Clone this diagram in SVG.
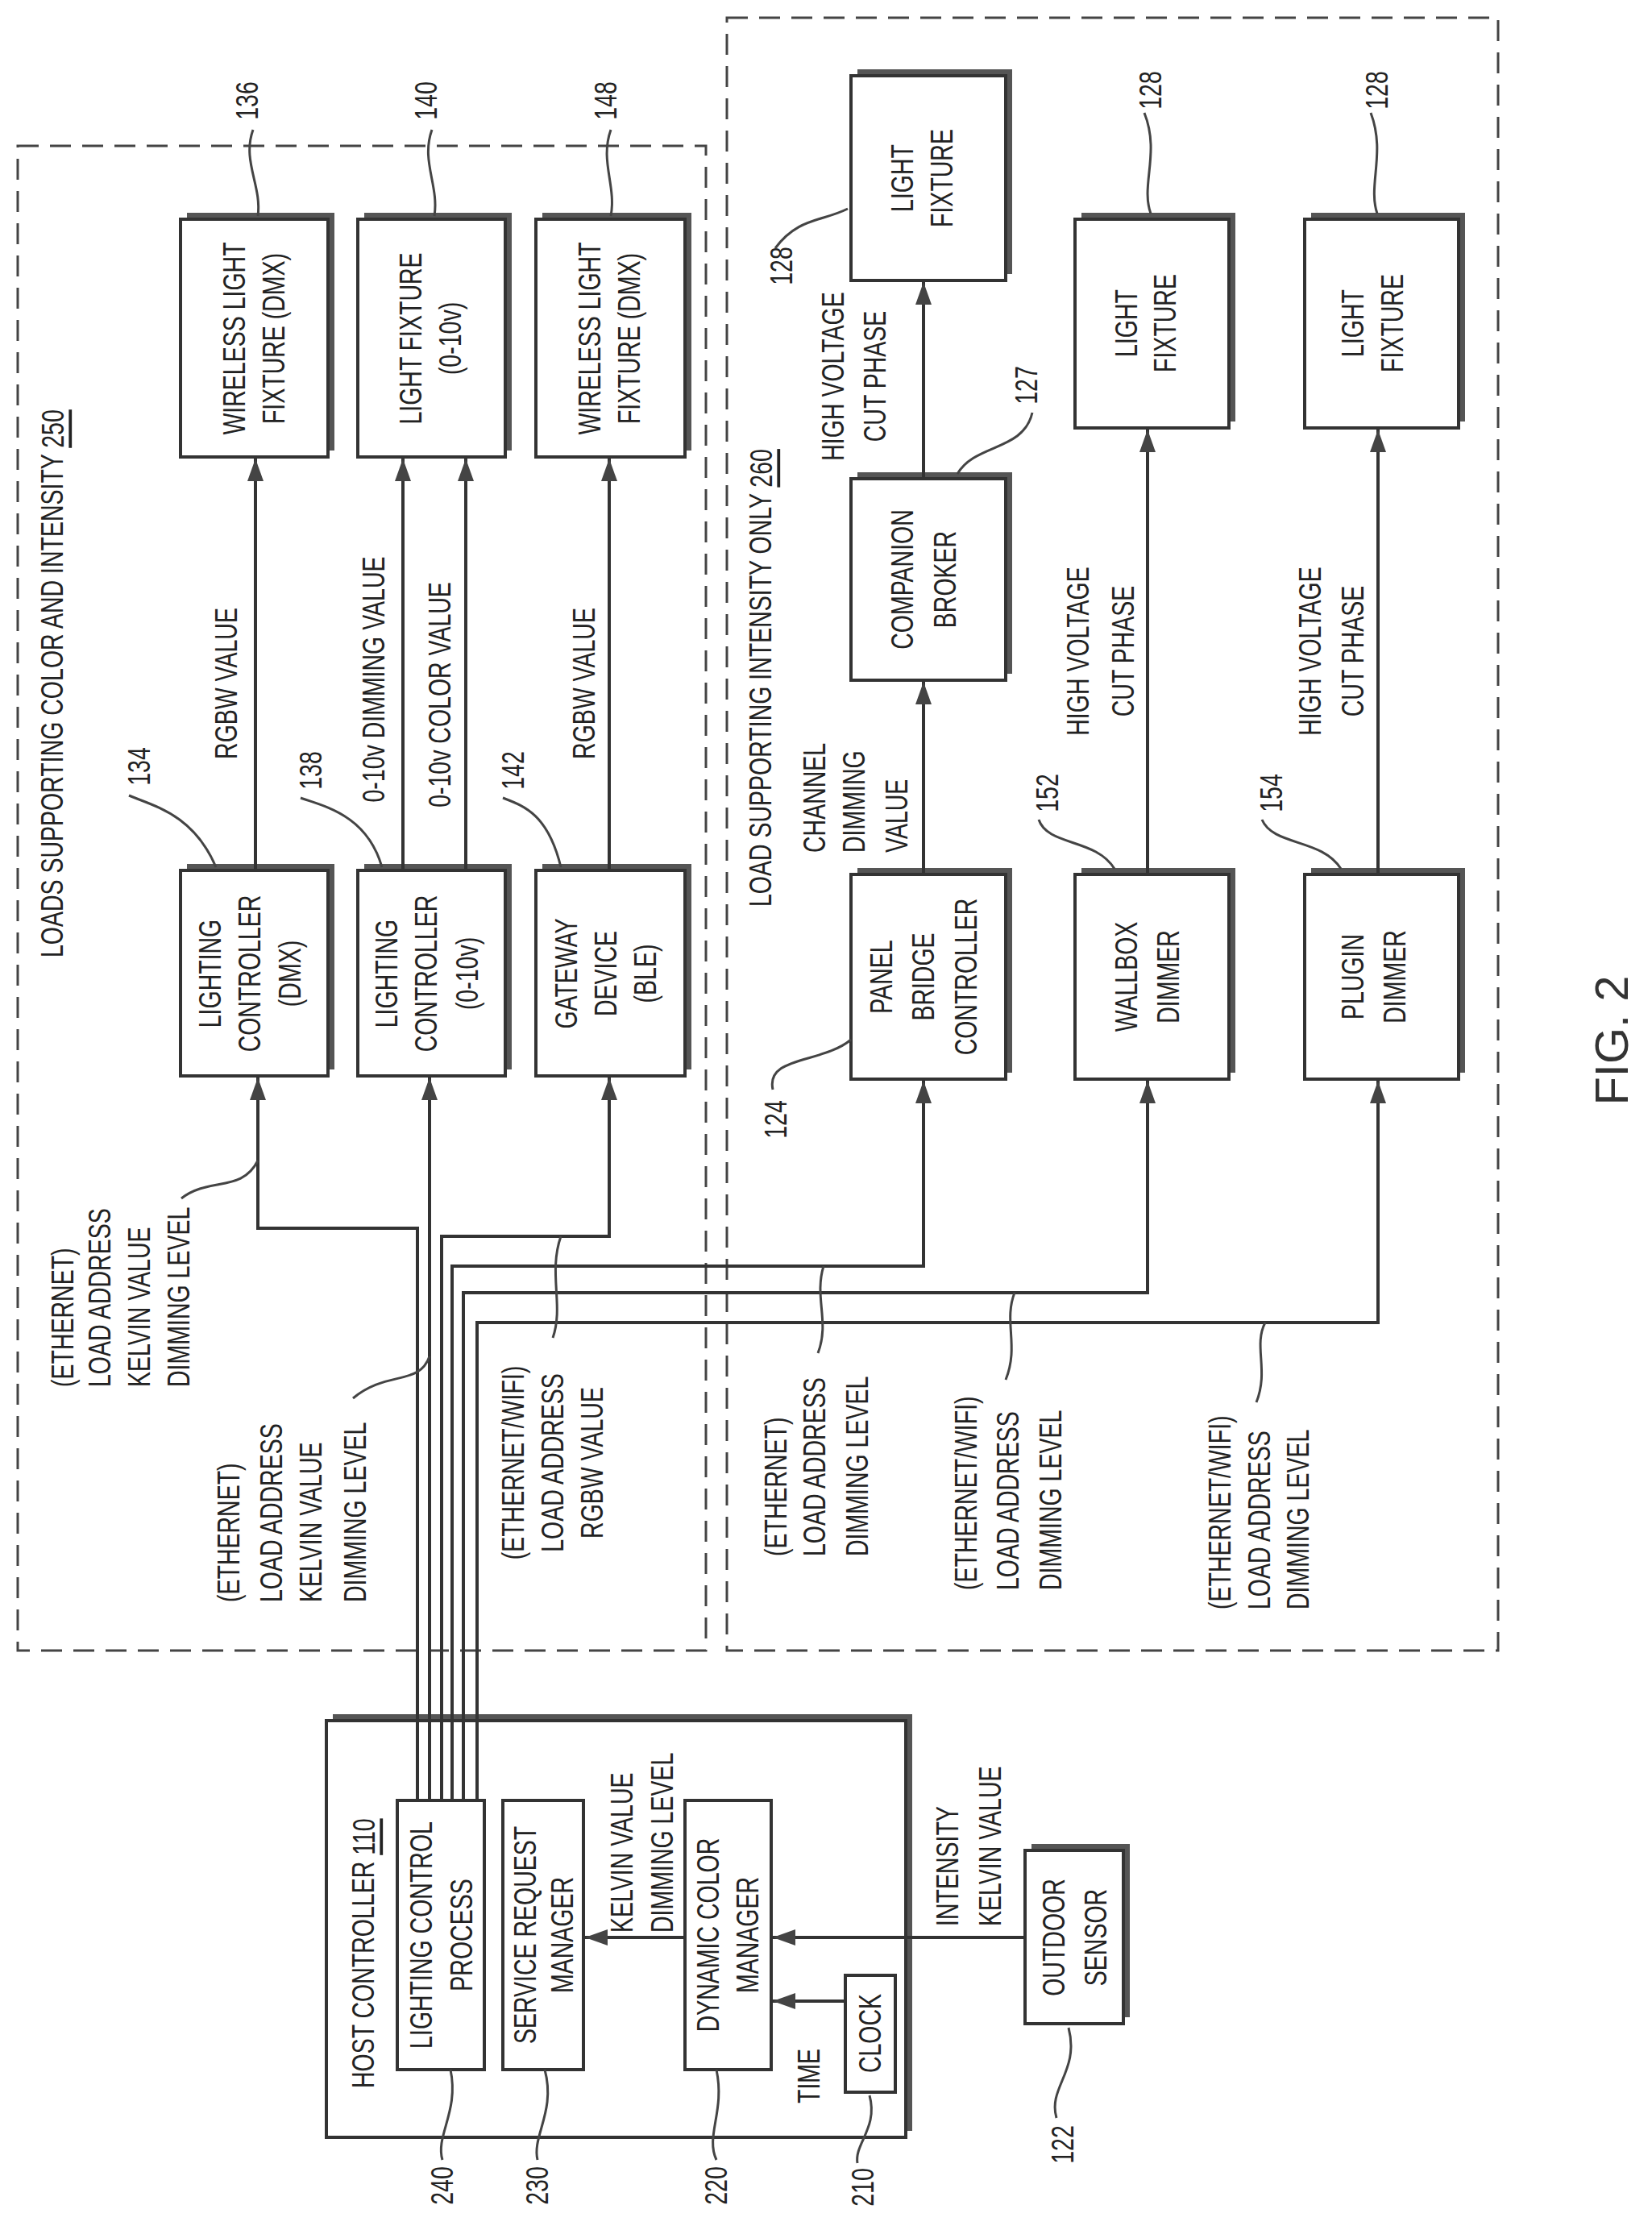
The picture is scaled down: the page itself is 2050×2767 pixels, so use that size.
<svg xmlns="http://www.w3.org/2000/svg" width="2050" height="2767" viewBox="0 0 2050 2767">
<style>
.t{font-family:"Liberation Sans",Arial,sans-serif;font-size:38px;fill:#222}
.f{font-family:"Liberation Sans",Arial,sans-serif;font-size:58px;fill:#333}
.ln{stroke:#333;stroke-width:4;fill:none}
.ld{stroke:#444;stroke-width:3;fill:none}
.dash{stroke:#444;stroke-width:3;fill:none;stroke-dasharray:26 14}
.bx{fill:#fff;stroke:#333;stroke-width:4}
.sh{fill:#555}
</style>
<defs>
<marker id="ar" viewBox="0 0 28 20" refX="28" refY="10" markerWidth="28" markerHeight="20" markerUnits="userSpaceOnUse" orient="auto"><path d="M0,0 L28,10 L0,20 z" fill="#444"/></marker>
</defs>
<rect width="2050" height="2767" fill="#fff"/>
<g id="region250"><rect class="dash" x="22" y="181" width="854" height="1867"/>
<text class="t" transform="translate(65,1188) rotate(-90) scale(0.75,1)" dominant-baseline="central">LOADS SUPPORTING COLOR AND INTENSITY <tspan text-decoration="underline">250</tspan></text></g>
<g id="region260"><rect class="dash" x="902" y="22" width="957" height="2026"/>
<text class="t" transform="translate(944,1125) rotate(-90) scale(0.75,1)" dominant-baseline="central">LOAD SUPPORTING INTENSITY ONLY <tspan text-decoration="underline">260</tspan></text></g>

<g id="host110"><rect class="sh" x="413" y="2127" width="719" height="517"/><rect class="bx" x="405" y="2135" width="719" height="517"/>
<text class="t" transform="translate(451,2591) rotate(-90) scale(0.75,1)" dominant-baseline="central">HOST CONTROLLER <tspan text-decoration="underline">110</tspan></text></g>
<g id="n240"><rect class="bx" x="493" y="2234" width="108" height="334"/>
<text class="t" transform="translate(523,2401) rotate(-90) scale(0.75,1)" text-anchor="middle" dominant-baseline="central">LIGHTING CONTROL</text>
<text class="t" transform="translate(573,2401) rotate(-90) scale(0.75,1)" text-anchor="middle" dominant-baseline="central">PROCESS</text></g>
<g id="n230"><rect class="bx" x="624" y="2234" width="100" height="334"/>
<text class="t" transform="translate(652,2401) rotate(-90) scale(0.75,1)" text-anchor="middle" dominant-baseline="central">SERVICE REQUEST</text>
<text class="t" transform="translate(698,2401) rotate(-90) scale(0.75,1)" text-anchor="middle" dominant-baseline="central">MANAGER</text></g>
<g id="n220"><rect class="bx" x="850" y="2234" width="107" height="334"/>
<text class="t" transform="translate(879,2401) rotate(-90) scale(0.75,1)" text-anchor="middle" dominant-baseline="central">DYNAMIC COLOR</text>
<text class="t" transform="translate(928,2401) rotate(-90) scale(0.75,1)" text-anchor="middle" dominant-baseline="central">MANAGER</text></g>
<g id="n210"><rect class="bx" x="1049" y="2451" width="62" height="145"/>
<text class="t" transform="translate(1080,2523) rotate(-90) scale(0.75,1)" text-anchor="middle" dominant-baseline="central">CLOCK</text></g>
<g id="n122"><rect class="sh" x="1280" y="2288" width="122" height="215"/><rect class="bx" x="1272" y="2296" width="122" height="215"/>
<text class="t" transform="translate(1308,2404) rotate(-90) scale(0.75,1)" text-anchor="middle" dominant-baseline="central">OUTDOOR</text>
<text class="t" transform="translate(1360,2404) rotate(-90) scale(0.75,1)" text-anchor="middle" dominant-baseline="central">SENSOR</text></g>

<g id="n136"><rect class="sh" x="232" y="264" width="183" height="295"/><rect class="bx" x="224" y="272" width="183" height="295"/>
<text class="t" transform="translate(291,420) rotate(-90) scale(0.75,1)" text-anchor="middle" dominant-baseline="central">WIRELESS LIGHT</text>
<text class="t" transform="translate(340,420) rotate(-90) scale(0.75,1)" text-anchor="middle" dominant-baseline="central">FIXTURE (DMX)</text></g>
<g id="n140"><rect class="sh" x="452" y="264" width="183" height="295"/><rect class="bx" x="444" y="272" width="183" height="295"/>
<text class="t" transform="translate(510,420) rotate(-90) scale(0.75,1)" text-anchor="middle" dominant-baseline="central">LIGHT FIXTURE</text>
<text class="t" transform="translate(559,420) rotate(-90) scale(0.75,1)" text-anchor="middle" dominant-baseline="central">(0-10v)</text></g>
<g id="n148"><rect class="sh" x="673" y="264" width="185" height="295"/><rect class="bx" x="665" y="272" width="185" height="295"/>
<text class="t" transform="translate(732,420) rotate(-90) scale(0.75,1)" text-anchor="middle" dominant-baseline="central">WIRELESS LIGHT</text>
<text class="t" transform="translate(781,420) rotate(-90) scale(0.75,1)" text-anchor="middle" dominant-baseline="central">FIXTURE (DMX)</text></g>
<g id="n134"><rect class="sh" x="232" y="1072" width="183" height="255"/><rect class="bx" x="224" y="1080" width="183" height="255"/>
<text class="t" transform="translate(261,1208) rotate(-90) scale(0.75,1)" text-anchor="middle" dominant-baseline="central">LIGHTING</text>
<text class="t" transform="translate(310,1208) rotate(-90) scale(0.75,1)" text-anchor="middle" dominant-baseline="central">CONTROLLER</text>
<text class="t" transform="translate(360,1208) rotate(-90) scale(0.75,1)" text-anchor="middle" dominant-baseline="central">(DMX)</text></g>
<g id="n138"><rect class="sh" x="452" y="1072" width="183" height="255"/><rect class="bx" x="444" y="1080" width="183" height="255"/>
<text class="t" transform="translate(480,1208) rotate(-90) scale(0.75,1)" text-anchor="middle" dominant-baseline="central">LIGHTING</text>
<text class="t" transform="translate(529,1208) rotate(-90) scale(0.75,1)" text-anchor="middle" dominant-baseline="central">CONTROLLER</text>
<text class="t" transform="translate(580,1208) rotate(-90) scale(0.75,1)" text-anchor="middle" dominant-baseline="central">(0-10v)</text></g>
<g id="n142"><rect class="sh" x="673" y="1072" width="185" height="255"/><rect class="bx" x="665" y="1080" width="185" height="255"/>
<text class="t" transform="translate(703,1208) rotate(-90) scale(0.75,1)" text-anchor="middle" dominant-baseline="central">GATEWAY</text>
<text class="t" transform="translate(752,1208) rotate(-90) scale(0.75,1)" text-anchor="middle" dominant-baseline="central">DEVICE</text>
<text class="t" transform="translate(801,1208) rotate(-90) scale(0.75,1)" text-anchor="middle" dominant-baseline="central">(BLE)</text></g>

<g id="n128a"><rect class="sh" x="1064" y="86" width="192" height="254"/><rect class="bx" x="1056" y="94" width="192" height="254"/>
<text class="t" transform="translate(1120,221) rotate(-90) scale(0.75,1)" text-anchor="middle" dominant-baseline="central">LIGHT</text>
<text class="t" transform="translate(1169,221) rotate(-90) scale(0.75,1)" text-anchor="middle" dominant-baseline="central">FIXTURE</text></g>
<g id="n127"><rect class="sh" x="1064" y="586" width="192" height="250"/><rect class="bx" x="1056" y="594" width="192" height="250"/>
<text class="t" transform="translate(1120,719) rotate(-90) scale(0.75,1)" text-anchor="middle" dominant-baseline="central">COMPANION</text>
<text class="t" transform="translate(1173,719) rotate(-90) scale(0.75,1)" text-anchor="middle" dominant-baseline="central">BROKER</text></g>
<g id="n124"><rect class="sh" x="1064" y="1077" width="192" height="254"/><rect class="bx" x="1056" y="1085" width="192" height="254"/>
<text class="t" transform="translate(1094,1212) rotate(-90) scale(0.75,1)" text-anchor="middle" dominant-baseline="central">PANEL</text>
<text class="t" transform="translate(1146,1212) rotate(-90) scale(0.75,1)" text-anchor="middle" dominant-baseline="central">BRIDGE</text>
<text class="t" transform="translate(1199,1212) rotate(-90) scale(0.75,1)" text-anchor="middle" dominant-baseline="central">CONTROLLER</text></g>
<g id="n128b"><rect class="sh" x="1342" y="264" width="191" height="259"/><rect class="bx" x="1334" y="272" width="191" height="259"/>
<text class="t" transform="translate(1398,401) rotate(-90) scale(0.75,1)" text-anchor="middle" dominant-baseline="central">LIGHT</text>
<text class="t" transform="translate(1446,401) rotate(-90) scale(0.75,1)" text-anchor="middle" dominant-baseline="central">FIXTURE</text></g>
<g id="n152"><rect class="sh" x="1342" y="1077" width="191" height="254"/><rect class="bx" x="1334" y="1085" width="191" height="254"/>
<text class="t" transform="translate(1398,1212) rotate(-90) scale(0.75,1)" text-anchor="middle" dominant-baseline="central">WALLBOX</text>
<text class="t" transform="translate(1450,1212) rotate(-90) scale(0.75,1)" text-anchor="middle" dominant-baseline="central">DIMMER</text></g>
<g id="n128c"><rect class="sh" x="1627" y="264" width="191" height="259"/><rect class="bx" x="1619" y="272" width="191" height="259"/>
<text class="t" transform="translate(1679,401) rotate(-90) scale(0.75,1)" text-anchor="middle" dominant-baseline="central">LIGHT</text>
<text class="t" transform="translate(1728,401) rotate(-90) scale(0.75,1)" text-anchor="middle" dominant-baseline="central">FIXTURE</text></g>
<g id="n154"><rect class="sh" x="1627" y="1077" width="191" height="254"/><rect class="bx" x="1619" y="1085" width="191" height="254"/>
<text class="t" transform="translate(1679,1212) rotate(-90) scale(0.75,1)" text-anchor="middle" dominant-baseline="central">PLUGIN</text>
<text class="t" transform="translate(1731,1212) rotate(-90) scale(0.75,1)" text-anchor="middle" dominant-baseline="central">DIMMER</text></g>

<g id="connectors">
<path class="ln" marker-end="url(#ar)" d="M518,2234 V1524 H320 V1337"/>
<path class="ln" marker-end="url(#ar)" d="M533,2234 V1337"/>
<path class="ln" marker-end="url(#ar)" d="M548,2234 V1534 H756 V1337"/>
<path class="ln" marker-end="url(#ar)" d="M561,2234 V1571 H1146 V1341"/>
<path class="ln" marker-end="url(#ar)" d="M575,2234 V1604 H1424 V1341"/>
<path class="ln" marker-end="url(#ar)" d="M592,2234 V1641 H1710 V1341"/>
<path class="ln" marker-end="url(#ar)" d="M317,1080 V569"/>
<path class="ln" marker-end="url(#ar)" d="M500,1080 V569"/>
<path class="ln" marker-end="url(#ar)" d="M578,1080 V569"/>
<path class="ln" marker-end="url(#ar)" d="M756,1080 V569"/>
<path class="ln" marker-end="url(#ar)" d="M1146,1085 V846"/>
<path class="ln" marker-end="url(#ar)" d="M1146,594 V350"/>
<path class="ln" marker-end="url(#ar)" d="M1424,1085 V533"/>
<path class="ln" marker-end="url(#ar)" d="M1710,1085 V533"/>
<path class="ln" marker-end="url(#ar)" d="M850,2404 H726"/>
<path class="ln" marker-end="url(#ar)" d="M1272,2404 H959"/>
<path class="ln" marker-end="url(#ar)" d="M1049,2483 H959"/>
</g>

<g id="labels">
<text class="t" transform="translate(281,848) rotate(-90) scale(0.75,1)" text-anchor="middle" dominant-baseline="central">RGBW VALUE</text>
<text class="t" transform="translate(464,843) rotate(-90) scale(0.75,1)" text-anchor="middle" dominant-baseline="central">0-10v DIMMING VALUE</text>
<text class="t" transform="translate(546,862) rotate(-90) scale(0.75,1)" text-anchor="middle" dominant-baseline="central">0-10v COLOR VALUE</text>
<text class="t" transform="translate(725,848) rotate(-90) scale(0.75,1)" text-anchor="middle" dominant-baseline="central">RGBW VALUE</text>
<text class="t" transform="translate(78,1721) rotate(-90) scale(0.75,1)" dominant-baseline="central">(ETHERNET)</text>
<text class="t" transform="translate(124,1721) rotate(-90) scale(0.75,1)" dominant-baseline="central">LOAD ADDRESS</text>
<text class="t" transform="translate(173,1721) rotate(-90) scale(0.75,1)" dominant-baseline="central">KELVIN VALUE</text>
<text class="t" transform="translate(222,1721) rotate(-90) scale(0.75,1)" dominant-baseline="central">DIMMING LEVEL</text>
<text class="t" transform="translate(284,1988) rotate(-90) scale(0.75,1)" dominant-baseline="central">(ETHERNET)</text>
<text class="t" transform="translate(337,1988) rotate(-90) scale(0.75,1)" dominant-baseline="central">LOAD ADDRESS</text>
<text class="t" transform="translate(386,1988) rotate(-90) scale(0.75,1)" dominant-baseline="central">KELVIN VALUE</text>
<text class="t" transform="translate(441,1988) rotate(-90) scale(0.75,1)" dominant-baseline="central">DIMMING LEVEL</text>
<text class="t" transform="translate(637,1815) rotate(-90) scale(0.75,1)" text-anchor="middle" dominant-baseline="central">(ETHERNET/WIFI)</text>
<text class="t" transform="translate(686,1815) rotate(-90) scale(0.75,1)" text-anchor="middle" dominant-baseline="central">LOAD ADDRESS</text>
<text class="t" transform="translate(735,1815) rotate(-90) scale(0.75,1)" text-anchor="middle" dominant-baseline="central">RGBW VALUE</text>
<text class="t" transform="translate(963,1931) rotate(-90) scale(0.75,1)" dominant-baseline="central">(ETHERNET)</text>
<text class="t" transform="translate(1011,1931) rotate(-90) scale(0.75,1)" dominant-baseline="central">LOAD ADDRESS</text>
<text class="t" transform="translate(1064,1931) rotate(-90) scale(0.75,1)" dominant-baseline="central">DIMMING LEVEL</text>
<text class="t" transform="translate(1199,1973) rotate(-90) scale(0.75,1)" dominant-baseline="central">(ETHERNET/WIFI)</text>
<text class="t" transform="translate(1251,1973) rotate(-90) scale(0.75,1)" dominant-baseline="central">LOAD ADDRESS</text>
<text class="t" transform="translate(1304,1973) rotate(-90) scale(0.75,1)" dominant-baseline="central">DIMMING LEVEL</text>
<text class="t" transform="translate(1514,1997) rotate(-90) scale(0.75,1)" dominant-baseline="central">(ETHERNET/WIFI)</text>
<text class="t" transform="translate(1563,1997) rotate(-90) scale(0.75,1)" dominant-baseline="central">LOAD ADDRESS</text>
<text class="t" transform="translate(1611,1997) rotate(-90) scale(0.75,1)" dominant-baseline="central">DIMMING LEVEL</text>
<text class="t" transform="translate(1011,1058) rotate(-90) scale(0.75,1)" dominant-baseline="central">CHANNEL</text>
<text class="t" transform="translate(1060,1058) rotate(-90) scale(0.75,1)" dominant-baseline="central">DIMMING</text>
<text class="t" transform="translate(1113,1058) rotate(-90) scale(0.75,1)" dominant-baseline="central">VALUE</text>
<text class="t" transform="translate(1034,467) rotate(-90) scale(0.75,1)" text-anchor="middle" dominant-baseline="central">HIGH VOLTAGE</text>
<text class="t" transform="translate(1086,467) rotate(-90) scale(0.75,1)" text-anchor="middle" dominant-baseline="central">CUT PHASE</text>
<text class="t" transform="translate(1338,808) rotate(-90) scale(0.75,1)" text-anchor="middle" dominant-baseline="central">HIGH VOLTAGE</text>
<text class="t" transform="translate(1394,808) rotate(-90) scale(0.75,1)" text-anchor="middle" dominant-baseline="central">CUT PHASE</text>
<text class="t" transform="translate(1626,808) rotate(-90) scale(0.75,1)" text-anchor="middle" dominant-baseline="central">HIGH VOLTAGE</text>
<text class="t" transform="translate(1679,808) rotate(-90) scale(0.75,1)" text-anchor="middle" dominant-baseline="central">CUT PHASE</text>
<text class="t" transform="translate(772,2398) rotate(-90) scale(0.75,1)" dominant-baseline="central">KELVIN VALUE</text>
<text class="t" transform="translate(822,2398) rotate(-90) scale(0.75,1)" dominant-baseline="central">DIMMING LEVEL</text>
<text class="t" transform="translate(1004,2610) rotate(-90) scale(0.75,1)" dominant-baseline="central">TIME</text>
<text class="t" transform="translate(1176,2390) rotate(-90) scale(0.75,1)" dominant-baseline="central">INTENSITY</text>
<text class="t" transform="translate(1229,2390) rotate(-90) scale(0.75,1)" dominant-baseline="central">KELVIN VALUE</text>
<text class="f" transform="translate(1999,1291) rotate(-90)" text-anchor="middle" dominant-baseline="central">FIG. 2</text>
</g>

<g id="refs">
<text class="t" transform="translate(173,951) rotate(-90) scale(0.75,1)" text-anchor="middle" dominant-baseline="central">134</text>
<text class="t" transform="translate(386,956) rotate(-90) scale(0.75,1)" text-anchor="middle" dominant-baseline="central">138</text>
<text class="t" transform="translate(637,956) rotate(-90) scale(0.75,1)" text-anchor="middle" dominant-baseline="central">142</text>
<text class="t" transform="translate(307,125) rotate(-90) scale(0.75,1)" text-anchor="middle" dominant-baseline="central">136</text>
<text class="t" transform="translate(529,125) rotate(-90) scale(0.75,1)" text-anchor="middle" dominant-baseline="central">140</text>
<text class="t" transform="translate(752,125) rotate(-90) scale(0.75,1)" text-anchor="middle" dominant-baseline="central">148</text>
<text class="t" transform="translate(970,330) rotate(-90) scale(0.75,1)" text-anchor="middle" dominant-baseline="central">128</text>
<text class="t" transform="translate(1274,478) rotate(-90) scale(0.75,1)" text-anchor="middle" dominant-baseline="central">127</text>
<text class="t" transform="translate(1428,112) rotate(-90) scale(0.75,1)" text-anchor="middle" dominant-baseline="central">128</text>
<text class="t" transform="translate(1709,112) rotate(-90) scale(0.75,1)" text-anchor="middle" dominant-baseline="central">128</text>
<text class="t" transform="translate(1300,984) rotate(-90) scale(0.75,1)" text-anchor="middle" dominant-baseline="central">152</text>
<text class="t" transform="translate(1578,984) rotate(-90) scale(0.75,1)" text-anchor="middle" dominant-baseline="central">154</text>
<text class="t" transform="translate(963,1389) rotate(-90) scale(0.75,1)" text-anchor="middle" dominant-baseline="central">124</text>
<text class="t" transform="translate(1319,2661) rotate(-90) scale(0.75,1)" text-anchor="middle" dominant-baseline="central">122</text>
<text class="t" transform="translate(1071,2714) rotate(-90) scale(0.75,1)" text-anchor="middle" dominant-baseline="central">210</text>
<text class="t" transform="translate(889,2712) rotate(-90) scale(0.75,1)" text-anchor="middle" dominant-baseline="central">220</text>
<text class="t" transform="translate(667,2712) rotate(-90) scale(0.75,1)" text-anchor="middle" dominant-baseline="central">230</text>
<text class="t" transform="translate(549,2712) rotate(-90) scale(0.75,1)" text-anchor="middle" dominant-baseline="central">240</text>
<path class="ld" d="M160,987 C190,1000 240,1010 268,1076"/>
<path class="ld" d="M373,990 C400,1000 455,1010 474,1076"/>
<path class="ld" d="M624,990 C650,1000 680,1010 696,1076"/>
<path class="ld" d="M314,161 C300,200 325,230 320,268"/>
<path class="ld" d="M536,161 C522,200 545,230 539,268"/>
<path class="ld" d="M758,161 C744,200 765,230 758,268"/>
<path class="ld" d="M225,1487 C260,1460 300,1480 320,1440"/>
<path class="ld" d="M438,1735 C480,1700 520,1720 533,1683"/>
<path class="ld" d="M686,1660 C700,1620 680,1580 696,1534"/>
<path class="ld" d="M1015,1679 C1030,1640 1010,1610 1022,1571"/>
<path class="ld" d="M1248,1712 C1265,1670 1245,1640 1259,1604"/>
<path class="ld" d="M1559,1740 C1575,1700 1555,1670 1570,1641"/>
<path class="ld" d="M962,308 C990,270 1020,275 1052,259"/>
<path class="ld" d="M1281,512 C1270,560 1210,550 1188,588"/>
<path class="ld" d="M1420,140 C1440,190 1415,230 1428,265"/>
<path class="ld" d="M1701,140 C1720,190 1697,230 1709,265"/>
<path class="ld" d="M1289,1017 C1300,1050 1360,1040 1383,1078"/>
<path class="ld" d="M1566,1017 C1580,1050 1640,1040 1664,1078"/>
<path class="ld" d="M959,1352 C950,1310 1020,1320 1056,1290"/>
<path class="ld" d="M1326,2516 C1340,2570 1300,2590 1311,2628"/>
<path class="ld" d="M1079,2600 C1090,2640 1060,2660 1064,2684"/>
<path class="ld" d="M889,2568 C900,2620 875,2650 889,2680"/>
<path class="ld" d="M676,2568 C690,2620 660,2650 667,2680"/>
<path class="ld" d="M559,2568 C570,2620 540,2650 549,2680"/>
</g>
</svg>
